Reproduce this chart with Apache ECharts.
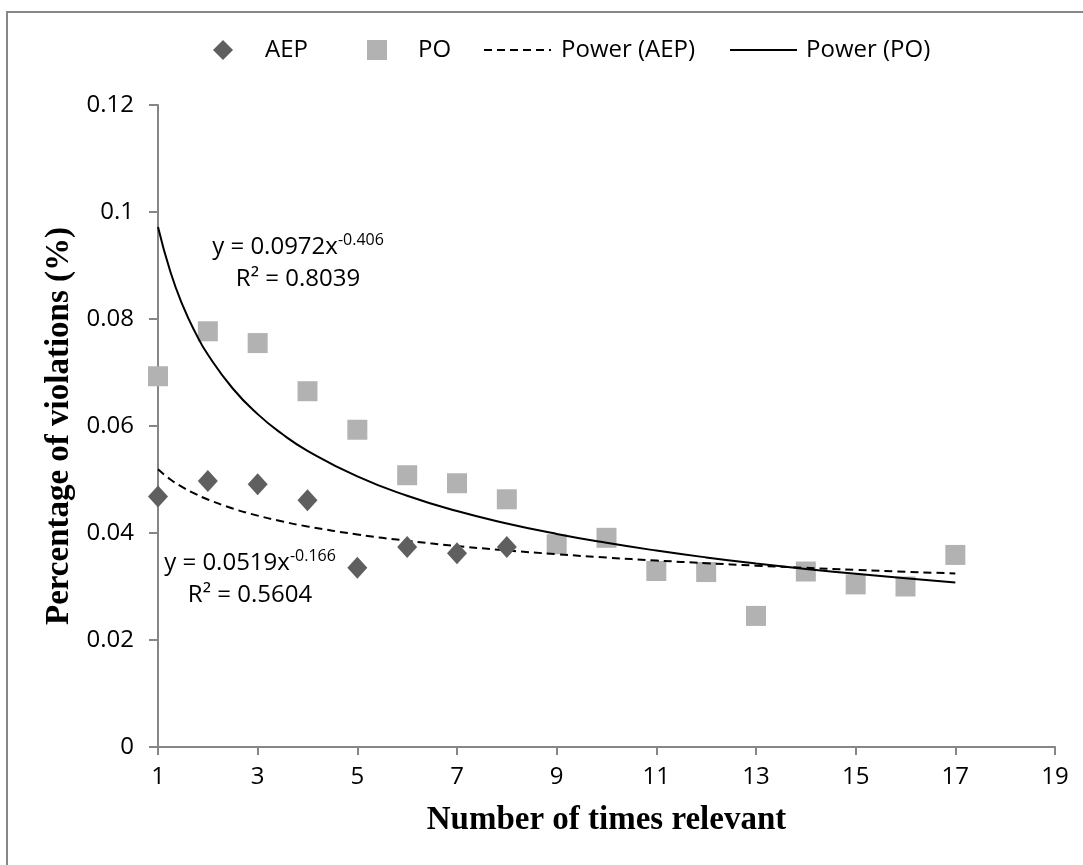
<!DOCTYPE html>
<html>
<head>
<meta charset="utf-8">
<script src="https://cdn.jsdelivr.net/npm/echarts@6/dist/echarts.min.js"></script>
<style>
html,body{margin:0;padding:0;background:#fff;}
#chart{width:1083px;height:865px;}
</style>
</head>
<body>
<div id="chart"></div>
<script>
// ---- data ----
var xTickLabels = [1, 3, 5, 7, 9, 11, 13, 15, 17, 19];
var yTickLabels = [0, 0.02, 0.04, 0.06, 0.08, 0.1, 0.12];
var aepX = [1, 2, 3, 4, 5, 6, 7, 8];
var aepY = [0.0468, 0.0497, 0.0491, 0.0461, 0.0335, 0.0374, 0.0362, 0.0374];
var poX = [1, 2, 3, 4, 5, 6, 7, 8, 9, 10, 11, 12, 13, 14, 15, 16, 17];
var poY = [0.0693, 0.0777, 0.0755, 0.0665, 0.0593, 0.0508, 0.0493, 0.0463, 0.0379, 0.0391, 0.0329, 0.0327, 0.0245, 0.0328, 0.0304, 0.0300, 0.0359];
// trend lines (values of the displayed power fits)
var trendX = [1, 1.25, 1.5, 1.75, 2, 2.5, 3, 3.5, 4, 5, 6, 7, 8, 9, 10, 11, 12, 13, 14, 15, 16, 17];
var aepTrendY = [0.0519, 0.05001, 0.04852, 0.04730, 0.04626, 0.04458, 0.04325, 0.04215, 0.04123, 0.03973, 0.03855, 0.03757, 0.03675, 0.03604, 0.03541, 0.03486, 0.03436, 0.03390, 0.03349, 0.03311, 0.03276, 0.03243];
var poTrendY = [0.0972, 0.08878, 0.08245, 0.07745, 0.07336, 0.06701, 0.06222, 0.05845, 0.05537, 0.05057, 0.04696, 0.04411, 0.04179, 0.03983, 0.03817, 0.03672, 0.03544, 0.03431, 0.03329, 0.03237, 0.03154, 0.03077];
var seriesNames = ['AEP', 'PO', 'Power (AEP)', 'Power (PO)'];
var xTitle = 'Number of times relevant';
var yTitle = 'Percentage of violations (%)';
var poEq = ['y = 0.0972x', '-0.406', 'R² = 0.8039'];
var aepEq = ['y = 0.0519x', '-0.166', 'R² = 0.5604'];

function pairs(xs, ys) { return xs.map(function (x, i) { return [x, ys[i]]; }); }

var SANS = '"Open Sans", "Noto Sans", sans-serif';
var SERIF = '"Liberation Serif", "DejaVu Serif", serif';
var axisGray = '#868686';

var chart = echarts.init(document.getElementById('chart'), null, {renderer: 'canvas'});

function legendItem(name, left, iconW, iconH, pad, hideSymbol) {
  var l = {
    show: true,
    data: [name],
    left: left,
    top: 38,
    itemWidth: iconW,
    itemHeight: iconH,
    itemGap: 0,
    padding: 0,
    selectedMode: false,
    textStyle: {fontFamily: SANS, fontSize: 24, color: '#000', padding: [0, 0, 0, pad]}
  };
  if (hideSymbol) { l.itemStyle = {opacity: 0}; }
  return l;
}

function eqText(x, y, eq) {
  return [{
    type: 'text', x: x, y: y,
    style: {
      text: '{a|' + eq[0] + '}{s|' + eq[1] + '}',
      align: 'center', verticalAlign: 'middle',
      rich: {
        a: {fontFamily: SANS, fontSize: 24, color: '#000', lineHeight: 30},
        s: {fontFamily: SANS, fontSize: 16, color: '#000', lineHeight: 30, verticalAlign: 'top', padding: [0, 0, 10, 0]}
      }
    }
  }, {
    type: 'text', x: x, y: y + 32,
    style: {text: eq[2], align: 'center', verticalAlign: 'middle', fontFamily: SANS, fontSize: 24, fill: '#000'}
  }];
}

var option = {
  backgroundColor: '#fff',
  animation: false,
  grid: {left: 158, right: 28, top: 105, bottom: 118, containLabel: false},
  legend: [
    legendItem(seriesNames[0], 213, 20, 20, 27, false),
    legendItem(seriesNames[1], 367, 20, 20, 26, false),
    legendItem(seriesNames[2], 483, 67, 14, 5, true),
    legendItem(seriesNames[3], 729, 67, 14, 4, true)
  ],
  xAxis: {
    type: 'value', min: 1, max: 19, interval: 2,
    name: xTitle, nameLocation: 'middle', nameGap: 57,
    nameTextStyle: {fontFamily: SERIF, fontWeight: 'bold', fontSize: 33, color: '#000'},
    axisLine: {show: true, onZero: false, lineStyle: {color: axisGray, width: 2}},
    axisTick: {show: true, inside: false, length: 8, lineStyle: {color: axisGray, width: 2}},
    axisLabel: {fontFamily: SANS, fontSize: 24, color: '#000', margin: 18,
      formatter: function (v) { return xTickLabels.indexOf(v) >= 0 ? String(v) : ''; }},
    splitLine: {show: false}
  },
  yAxis: {
    type: 'value', min: 0, max: 0.12, interval: 0.02,
    name: yTitle, nameLocation: 'middle', nameGap: 73, nameRotate: 90,
    nameTextStyle: {fontFamily: SERIF, fontWeight: 'bold', fontSize: 33, color: '#000'},
    axisLine: {show: true, lineStyle: {color: axisGray, width: 2}},
    axisTick: {show: true, inside: false, length: 9, lineStyle: {color: axisGray, width: 2}},
    axisLabel: {fontFamily: SANS, fontSize: 24, color: '#000', margin: 24,
      formatter: function (v) {
        var best = yTickLabels.reduce(function (a, b) { return Math.abs(b - v) < Math.abs(a - v) ? b : a; });
        return String(best);
      }},
    splitLine: {show: false}
  },
  series: [
    {
      name: seriesNames[2], type: 'line', data: pairs(trendX, aepTrendY),
      smooth: true, showSymbol: false, symbol: 'none', z: 3,
      lineStyle: {color: '#000', width: 2, type: [8, 5]},
      itemStyle: {color: '#000'}
    },
    {
      name: seriesNames[3], type: 'line', data: pairs(trendX, poTrendY),
      smooth: true, showSymbol: false, symbol: 'none', z: 3,
      lineStyle: {color: '#000', width: 2, type: 'solid'},
      itemStyle: {color: '#000'}
    },
    {
      name: seriesNames[0], type: 'scatter', data: pairs(aepX, aepY),
      symbol: 'diamond', symbolSize: [20, 22], z: 4,
      itemStyle: {color: '#5f5f5f', opacity: 1}
    },
    {
      name: seriesNames[1], type: 'scatter', data: pairs(poX, poY),
      symbol: 'rect', symbolSize: 20, z: 2,
      itemStyle: {color: '#b2b2b2', opacity: 1}
    }
  ],
  graphic: [
    {type: 'rect', shape: {x: 7, y: 12, width: 1200, height: 1000},
      style: {fill: 'none', stroke: '#878787', lineWidth: 2}, silent: true, z: 0}
  ].concat(eqText(298, 247, poEq)).concat(eqText(250, 563, aepEq))
};
chart.setOption(option);
</script>
</body>
</html>
